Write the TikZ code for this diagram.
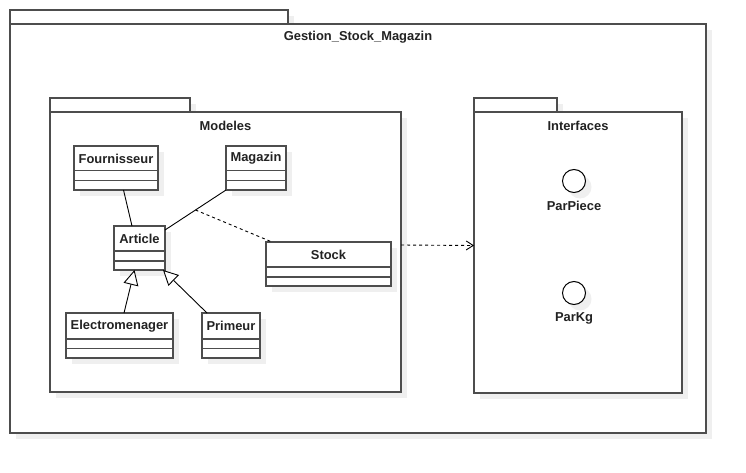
\documentclass[tikz,border=0pt]{standalone}
\usepackage{fontspec}
\setmainfont{Liberation Sans}
\usetikzlibrary{arrows.meta,shadows}
\definecolor{bord}{HTML}{4D4D4D}
\definecolor{shad}{HTML}{EFEFEF}
\definecolor{txt}{HTML}{222222}
\begin{document}
\begin{tikzpicture}[x=1pt,y=-1pt,
  shd/.style={drop shadow={shadow xshift=6pt,shadow yshift=-6pt,fill=shad,opacity=1}},
  box/.style={draw=bord,line width=1.3pt,fill=white,inner sep=0pt,outer sep=0pt,anchor=north west,shd},
  lbl/.style={font=\bfseries\fontsize{12.9}{14}\selectfont,text=txt,inner sep=0pt},
  divider/.style={draw=bord,line width=1.3pt},
  conn/.style={draw=black,line width=0.9pt},
  gen/.style={conn,-{Triangle[open,length=15pt,width=15pt,fill=white]}},
  dep/.style={conn,dash pattern=on 3pt off 3pt,-{Straight Barb[length=7pt,width=9pt]}},
  assocdash/.style={conn,dash pattern=on 3pt off 3pt},
  circ/.style={circle,draw=black,line width=1pt,fill=white,minimum size=23pt,inner sep=0pt,outer sep=0pt,shd}
]
\fill[white] (0,0) rectangle (746,473);
\useasboundingbox (0,0) rectangle (746,473);

% outer package
\node[box,minimum width=278pt,minimum height=14pt] (outtab) at (10,10) {};
\node[box,minimum width=696pt,minimum height=409pt] (outer) at (10,24) {};
\node[lbl] (outtitle) at (358,37.5) {Gestion\_Stock\_Magazin};

% Modeles package
\node[box,minimum width=140pt,minimum height=14pt] (modtab) at (50,98) {};
\node[box,minimum width=351pt,minimum height=280pt] (modeles) at (50,112) {};
\node[lbl] (modtitle) at (225.5,126) {Modeles};

% Interfaces package
\node[box,minimum width=83pt,minimum height=14pt] (inttab) at (474,98) {};
\node[box,minimum width=208pt,minimum height=281pt] (interfaces) at (474,112) {};
\node[lbl] (inttitle) at (578,126) {Interfaces};

% classes
\node[box,minimum width=84pt,minimum height=44pt] (fou) at (74,146) {};
\node[lbl] (foul) at ([yshift=-12.5pt]fou.north) {Fournisseur};
\draw[divider] ([yshift=-24.5pt]fou.north west) -- ([yshift=-24.5pt]fou.north east);
\draw[divider] ([yshift=-34.5pt]fou.north west) -- ([yshift=-34.5pt]fou.north east);

\node[box,minimum width=60pt,minimum height=44pt] (mag) at (226,146) {};
\node[lbl] (magl) at ([yshift=-12.5pt]mag.north) {Magazin};
\draw[divider] ([yshift=-24.5pt]mag.north west) -- ([yshift=-24.5pt]mag.north east);
\draw[divider] ([yshift=-34.5pt]mag.north west) -- ([yshift=-34.5pt]mag.north east);

\node[box,minimum width=51pt,minimum height=44pt] (art) at (114,226) {};
\node[lbl] (artl) at ([yshift=-12.5pt]art.north) {Article};
\draw[divider] ([yshift=-25pt]art.north west) -- ([yshift=-25pt]art.north east);
\draw[divider] ([yshift=-35pt]art.north west) -- ([yshift=-35pt]art.north east);

\node[box,minimum width=125pt,minimum height=44pt] (stock) at (266,242) {};
\node[lbl] (stockl) at ([yshift=-12.5pt]stock.north) {Stock};
\draw[divider] ([yshift=-25pt]stock.north west) -- ([yshift=-25pt]stock.north east);
\draw[divider] ([yshift=-35pt]stock.north west) -- ([yshift=-35pt]stock.north east);

\node[box,minimum width=107pt,minimum height=45pt] (elec) at (66,313) {};
\node[lbl] (elecl) at ([yshift=-13pt]elec.north) {Electromenager};
\draw[divider] ([yshift=-26pt]elec.north west) -- ([yshift=-26pt]elec.north east);
\draw[divider] ([yshift=-35.5pt]elec.north west) -- ([yshift=-35.5pt]elec.north east);

\node[box,minimum width=58pt,minimum height=45pt] (prim) at (202,313) {};
\node[lbl] (priml) at ([yshift=-13pt]prim.north) {Primeur};
\draw[divider] ([yshift=-26pt]prim.north west) -- ([yshift=-26pt]prim.north east);
\draw[divider] ([yshift=-35.5pt]prim.north west) -- ([yshift=-35.5pt]prim.north east);

% interfaces
\node[circ] (pp) at (574,181) {};
\node[lbl] (ppl) at (574,206) {ParPiece};
\node[circ] (pk) at (574,293) {};
\node[lbl] (pkl) at (574,318) {ParKg};

% connectors
\draw[conn] ([xshift=7.5pt]fou.south) -- ([xshift=-7.5pt]art.north);
\draw[conn] (mag.south west) -- coordinate[pos=0.5] (am) ([yshift=-4pt]art.north east);
\draw[assocdash] (am) -- ([xshift=6pt]stock.north west);
\draw[gen] ([xshift=4.5pt]elec.north) -- ([xshift=-5pt]art.south);
\draw[gen] ([xshift=5pt]prim.north west) -- ([xshift=-2pt]art.south east);
\draw[dep] ([yshift=7pt]modeles.east) -- ([yshift=7pt]interfaces.west);
\end{tikzpicture}
\end{document}
